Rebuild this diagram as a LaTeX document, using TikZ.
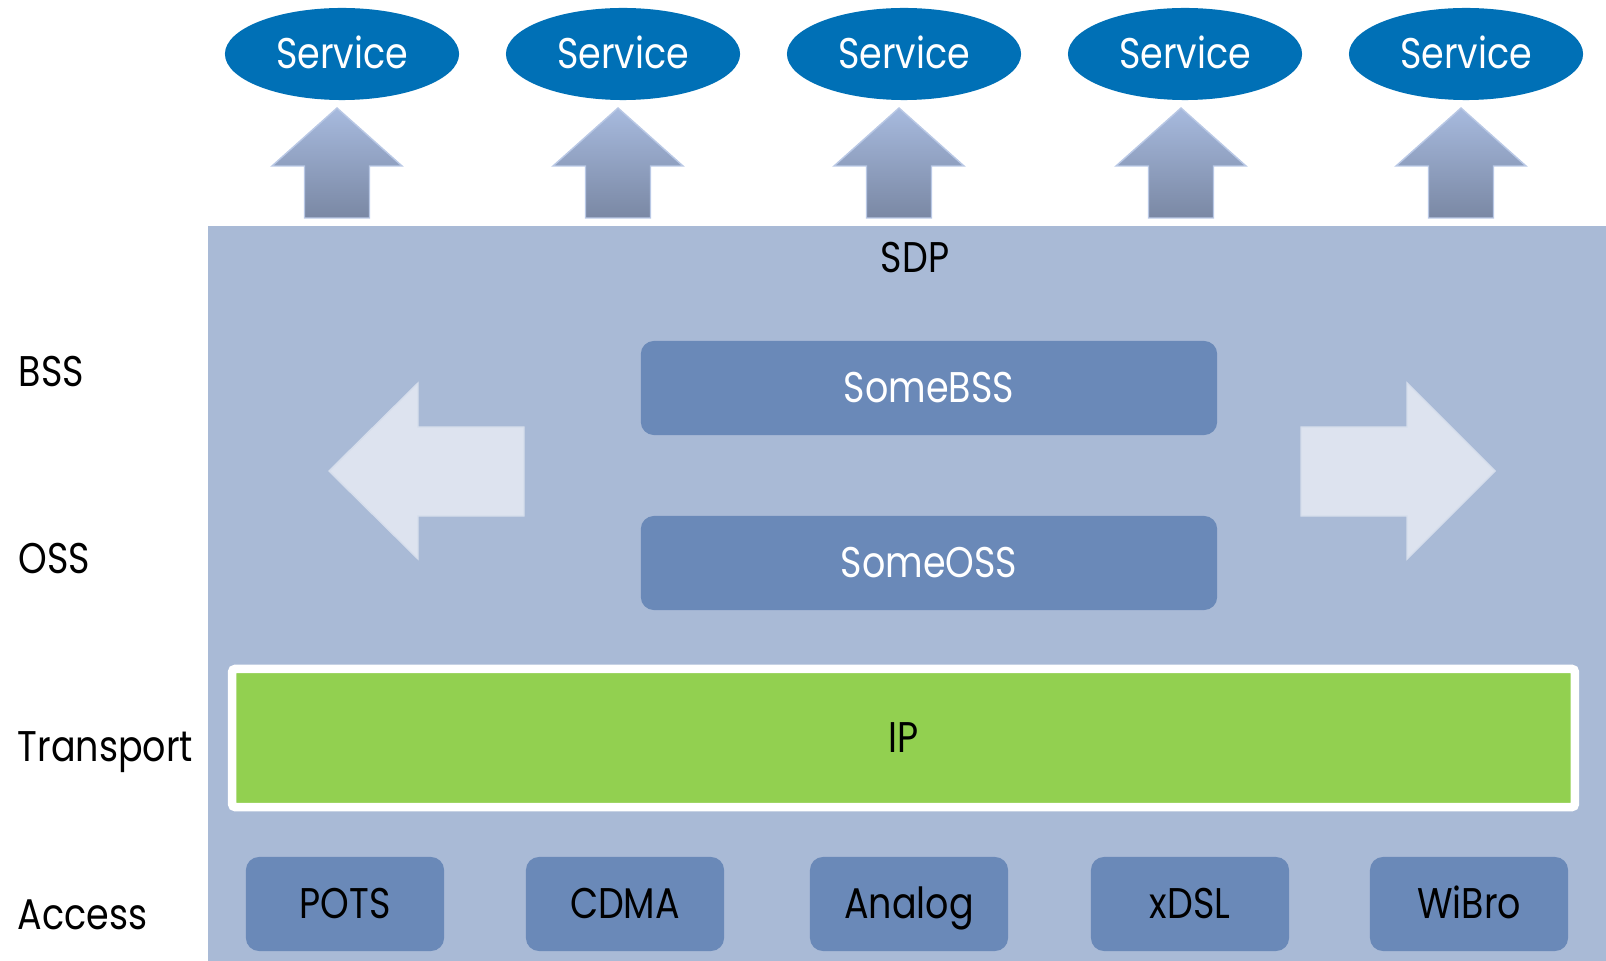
\documentclass[tikz,border=0pt]{standalone}
\usepackage{fontspec}
\setmainfont{Poppins}[FakeStretch=0.85]
\usetikzlibrary{shapes.geometric}
\definecolor{sdpback}{HTML}{A9BAD6}
\definecolor{servblue}{HTML}{0070B6}
\definecolor{layerbox}{HTML}{6A89B8}
\definecolor{ipgreen}{HTML}{92D050}
\definecolor{paleflow}{HTML}{DDE3EF}
\definecolor{uptop}{HTML}{A7BADE}
\definecolor{upbot}{HTML}{7A88A4}

\begin{document}
\begin{tikzpicture}[x=0.01cm,y=-0.01cm,
  every node/.style={font=\fontsize{12.2}{14}\selectfont,inner sep=0pt,text height=8.5pt,text depth=0pt},
  service/.style={ellipse,fill=servblue,text=white,minimum width=2.34cm,minimum height=0.92cm},
  upflow/.style={top color=uptop,bottom color=upbot,draw=uptop!80!white,line width=0.4pt},
  sideflow/.style={fill=paleflow,draw=paleflow!85!sdpback,line width=0.4pt},
  sysbox/.style={rounded corners=0.13cm,fill=layerbox,text=white,minimum width=5.76cm,minimum height=0.94cm},
  accbox/.style={rounded corners=0.13cm,fill=layerbox,minimum width=1.98cm,minimum height=0.94cm},
  layerlbl/.style={anchor=base west}]
\useasboundingbox (0,0) rectangle (1606,961);
\fill[sdpback] (208,226) rectangle (1606,961);
\node[service] (serv1) at (342,54) {Service};
\node[service] (serv2) at (623,54) {Service};
\node[service] (serv3) at (904,54) {Service};
\node[service] (serv4) at (1185,54) {Service};
\node[service] (serv5) at (1466,54) {Service};
\draw[upflow] (337,108) -- ++(65,58) -- ++(-32.5,0) -- ++(0,52) -- ++(-65,0) -- ++(0,-52) -- ++(-32.5,0) -- cycle;
\draw[upflow] (618,108) -- ++(65,58) -- ++(-32.5,0) -- ++(0,52) -- ++(-65,0) -- ++(0,-52) -- ++(-32.5,0) -- cycle;
\draw[upflow] (899,108) -- ++(65,58) -- ++(-32.5,0) -- ++(0,52) -- ++(-65,0) -- ++(0,-52) -- ++(-32.5,0) -- cycle;
\draw[upflow] (1181,108) -- ++(65,58) -- ++(-32.5,0) -- ++(0,52) -- ++(-65,0) -- ++(0,-52) -- ++(-32.5,0) -- cycle;
\draw[upflow] (1461,108) -- ++(65,58) -- ++(-32.5,0) -- ++(0,52) -- ++(-65,0) -- ++(0,-52) -- ++(-32.5,0) -- cycle;
\node[anchor=base] (sdp) at (915,273) {SDP};
\draw[sideflow] (329,471) -- ++(89,-88) -- ++(0,44) -- ++(106,0) -- ++(0,89) -- ++(-106,0) -- ++(0,43) -- cycle;
\draw[sideflow] (1495,471) -- ++(-88,-88) -- ++(0,44) -- ++(-106,0) -- ++(0,89) -- ++(106,0) -- ++(0,43) -- cycle;
\node[sysbox] (somebss) at (929,388) {SomeBSS};
\node[sysbox] (someoss) at (929,563) {SomeOSS};
\node[draw=white,line width=0.085cm,fill=ipgreen,rounded corners=0.03cm,minimum width=13.42cm,minimum height=1.38cm] (ip) at (903.5,738) {IP};
\node[accbox] (pots) at (345,904) {POTS};
\node[accbox] (cdma) at (625,904) {CDMA};
\node[accbox] (analog) at (909,904) {Analog};
\node[accbox] (xdsl) at (1190,904) {xDSL};
\node[accbox] (wibro) at (1469,904) {WiBro};
\node[layerlbl] (lblbss) at (18,387) {BSS};
\node[layerlbl] (lbloss) at (18,573) {OSS};
\node[layerlbl] (lbltransport) at (17,761) {Transport};
\node[layerlbl] (lblaccess) at (17,929) {Access};
\end{tikzpicture}
\end{document}
